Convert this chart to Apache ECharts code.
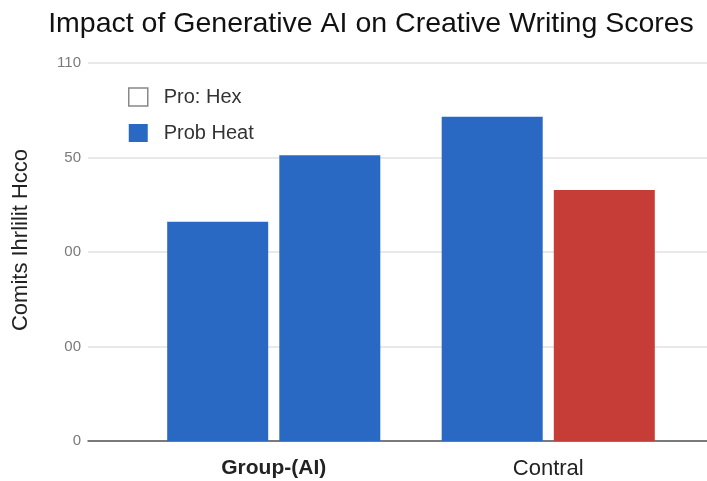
<!DOCTYPE html>
<html>
<head>
<meta charset="utf-8">
<script src="https://cdn.jsdelivr.net/npm/echarts@6/dist/echarts.min.js"></script>
<style>
  html, body { margin: 0; padding: 0; background: #fff; }
  #chart { width: 707px; height: 481px; }
</style>
</head>
<body>
<div id="chart"></div>
<script>
// data
const categories = ['Group-(AI)', 'Contral'];
const leftBars = [58, 85.8];    // blue, "Prob Heat"
const rightBars = [75.6, 66.4]; // blue / red
const yTickLabels = ['0', '00', '00', '50', '110'];
const legendNames = ['Pro: Hex', 'Prob Heat'];

const BLUE = '#2968c3';
const RED = '#c53d36';
const FONT = "'Liberation Sans', Arial, sans-serif";

const chart = echarts.init(document.getElementById('chart'));

chart.setOption({
  animation: false,
  textStyle: { fontFamily: FONT },
  title: {
    text: 'Impact of Generative AI on Creative Writing Scores',
    left: 366,
    textAlign: 'center',
    top: 5,
    textStyle: { fontSize: 28.5, fontWeight: 'normal', color: '#111', fontFamily: FONT }
  },
  legend: {
    orient: 'vertical',
    left: 128,
    top: 87,
    padding: 0,
    itemWidth: 19,
    itemHeight: 18,
    itemGap: 16,
    selectedMode: false,
    textStyle: { fontSize: 20, color: '#333', padding: [0, 0, 0, 11] },
    data: [
      { name: legendNames[0], icon: 'rect', itemStyle: { color: '#fff', borderColor: '#888', borderWidth: 1.5 } },
      { name: legendNames[1], icon: 'rect', itemStyle: { color: BLUE } }
    ]
  },
  grid: [
    { left: 88, right: 0, top: 63, bottom: 40 },
    { left: 136.5, right: 21.5, top: 63, bottom: 40 }
  ],
  xAxis: [
    {
      gridIndex: 0,
      type: 'category',
      data: [''],
      axisLine: { lineStyle: { color: '#555', width: 1.5 } },
      axisTick: { show: false },
      axisLabel: { show: false }
    },
    {
      gridIndex: 1,
      type: 'category',
      data: categories,
      axisLine: { show: false },
      axisTick: { show: false },
      axisLabel: {
        margin: 17,
        formatter: (v, i) => (i === 0 ? '{b|' + v + '}' : '{n|' + v + '}'),
        rich: {
          b: { fontSize: 21, fontWeight: 'bold', color: '#222', fontFamily: FONT },
          n: { fontSize: 22, color: '#222', fontFamily: FONT }
        }
      }
    }
  ],
  yAxis: [
    {
      gridIndex: 0,
      type: 'value',
      min: 0,
      max: 100,
      interval: 25,
      name: 'Comits Ihrlilit Hcco',
      nameLocation: 'middle',
      nameGap: 56,
      nameTextStyle: { fontSize: 22, color: '#222', padding: [0, 0, 0, 24] },
      axisLine: { show: false },
      axisTick: { show: false },
      axisLabel: {
        margin: 7,
        fontSize: 15,
        color: '#7a7a7a',
        formatter: v => yTickLabels[Math.round(v / 25)]
      },
      splitLine: { lineStyle: { color: '#e2e2e2', width: 1.5 } }
    },
    {
      gridIndex: 1,
      type: 'value',
      min: 0,
      max: 100,
      interval: 25,
      show: false,
      splitLine: { show: false }
    }
  ],
  series: [
    {
      name: legendNames[1],
      type: 'bar',
      xAxisIndex: 1,
      yAxisIndex: 1,
      barWidth: 101,
      barGap: '11%',
      itemStyle: { color: BLUE },
      data: leftBars
    },
    {
      name: legendNames[0],
      type: 'bar',
      xAxisIndex: 1,
      yAxisIndex: 1,
      barWidth: 101,
      barGap: '11%',
      data: rightBars.map((v, i) => ({ value: v, itemStyle: { color: i === 0 ? BLUE : RED } }))
    }
  ]
});
</script>
</body>
</html>
